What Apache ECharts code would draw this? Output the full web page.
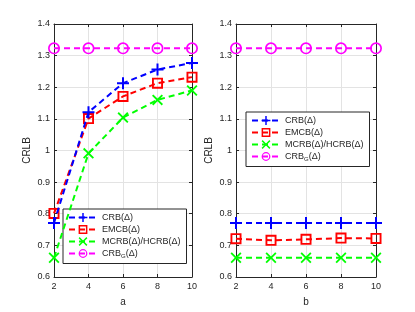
<!DOCTYPE html>
<html>
<head>
<meta charset="utf-8">
<script src="https://cdn.jsdelivr.net/npm/echarts@6/dist/echarts.min.js"></script>
<style>html,body{margin:0;padding:0;background:#fff}#c{width:415px;height:312px}</style>
</head>
<body>
<div id="c"></div>
<script>
const xCats = [2, 4, 6, 8, 10];
// panel a
const aCRB   = [0.771, 1.121, 1.213, 1.256, 1.277];
const aEMCB  = [0.801, 1.101, 1.171, 1.213, 1.232];
const aMCRB  = [0.661, 0.991, 1.104, 1.160, 1.190];
const aCRBG  = [1.323, 1.323, 1.323, 1.323, 1.323];
// panel b
const bCRB   = [0.771, 0.771, 0.771, 0.771, 0.771];
const bEMCB  = [0.721, 0.716, 0.719, 0.723, 0.722];
const bMCRB  = [0.661, 0.661, 0.661, 0.661, 0.661];
const bCRBG  = [1.323, 1.323, 1.323, 1.323, 1.323];
const names = ['CRB(Δ)', 'EMCB(Δ)', 'MCRB(Δ)/HCRB(Δ)', 'CRBG(Δ)'];
const colors = ['#0000ff', '#ff0000', '#00ff00', '#ff00ff'];

const symPlus = 'path://M-1,-6H1V-1H6V1H1V6H-1V1H-6V-1H-1Z';
const symX = 'path://M-6,-4.6L-4.6,-6L0,-1.4L4.6,-6L6,-4.6L1.4,0L6,4.6L4.6,6L0,1.4L-4.6,6L-6,4.6L-1.4,0Z';
const symSq = 'path://M-5,-5H5V5H-5Z M-3.3,-3.3V3.3H3.3V-3.3Z';
const symCi = 'path://M0,-6A6,6,0,1,1,0,6A6,6,0,1,1,0,-6Z M0,-4.3A4.3,4.3,0,1,0,0,4.3A4.3,4.3,0,1,0,0,-4.3Z';
const syms = [symPlus, symSq, symX, symCi];
const symSizes = [12, 11, 11, 12];

const font = 'Liberation Sans, Arial, sans-serif';
const axisColor = '#262626';

function xAx(gi, pos, name) {
  return {
    type: 'value', gridIndex: gi, position: pos, min: 2, max: 10, interval: 2,
    name: pos === 'bottom' ? name : '', nameLocation: 'middle', nameGap: 20,
    nameTextStyle: {color: axisColor, fontSize: 10, fontFamily: font},
    axisLine: {show: true, onZero: false, lineStyle: {color: axisColor, width: 1}},
    axisTick: {show: true, inside: true, length: 3, lineStyle: {color: axisColor}},
    axisLabel: {show: pos === 'bottom', color: axisColor, fontSize: 9, fontFamily: font, margin: 5},
    splitLine: {show: pos === 'bottom', lineStyle: {color: '#e3e3e3', width: 1}}
  };
}
function yAx(gi, pos) {
  return {
    type: 'value', gridIndex: gi, position: pos, min: 0.6, max: 1.4, interval: 0.1,
    name: pos === 'left' ? 'CRLB' : '', nameLocation: 'middle', nameGap: 22,
    nameTextStyle: {color: axisColor, fontSize: 10, fontFamily: font},
    axisLine: {show: true, onZero: false, lineStyle: {color: axisColor, width: 1}},
    axisTick: {show: true, inside: true, length: 3, lineStyle: {color: axisColor}},
    axisLabel: {show: pos === 'left', color: axisColor, fontSize: 9, fontFamily: font, margin: 4,
      formatter: v => String(Math.round(v * 10) / 10)},
    splitLine: {show: pos === 'left', lineStyle: {color: '#e3e3e3', width: 1}}
  };
}

function mkSeries(datas, xi, yi) {
  return datas.map((d, i) => ({
    type: 'line', name: names[i], xAxisIndex: xi, yAxisIndex: yi,
    data: d.map((v, j) => [xCats[j], v]),
    symbol: syms[i], symbolSize: symSizes[i], showAllSymbol: true,
    lineStyle: {color: colors[i], width: 2, type: [6, 4]},
    itemStyle: {color: colors[i]},
    z: 10 - i,
    animation: false
  }));
}

function legend(left, top) {
  return {
    orient: 'vertical', left: left, top: top,
    backgroundColor: '#fff', borderColor: '#262626', borderWidth: 1,
    padding: [4, 6, 4, 5], itemGap: 3, itemWidth: 28, itemHeight: 11,
    selectedMode: false,
    textStyle: {color: axisColor, fontSize: 9, fontFamily: font,
      rich: {sub: {fontSize: 6, verticalAlign: 'bottom', padding: [6, 0, 0, 0], color: axisColor, fontFamily: font}}},
    formatter: n => n === 'CRBG(Δ)' ? 'CRB{sub|G}(Δ)' : n,
    data: names
  };
}

const chart = echarts.init(document.getElementById('c'), null, {renderer: 'canvas'});
chart.setOption({
  animation: false,
  backgroundColor: '#fff',
  grid: [
    {left: 54, top: 24, width: 138, height: 253},
    {left: 236, top: 24, width: 140, height: 253}
  ],
  xAxis: [xAx(0, 'bottom', 'a'), xAx(0, 'top', ''), xAx(1, 'bottom', 'b'), xAx(1, 'top', '')],
  yAxis: [yAx(0, 'left'), yAx(0, 'right'), yAx(1, 'left'), yAx(1, 'right')],
  legend: [legend(63, 209), legend(246, 112)],
  series: [].concat(mkSeries([aCRB, aEMCB, aMCRB, aCRBG], 0, 0), mkSeries([bCRB, bEMCB, bMCRB, bCRBG], 2, 2))
});
</script>
</body>
</html>
